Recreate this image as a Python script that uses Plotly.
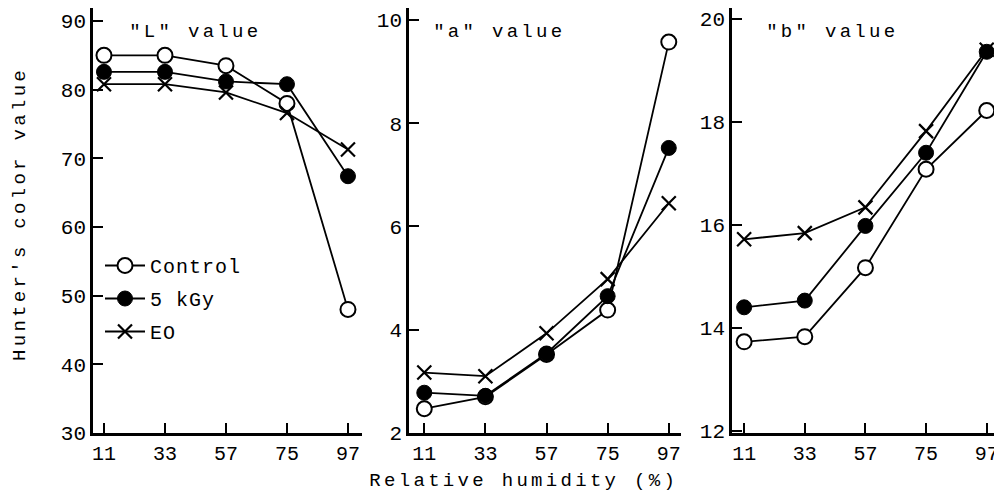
import plotly.graph_objects as go

humidity = ["11", "33", "57", "75", "97"]

L_control = [85.0, 85.0, 83.5, 78.0, 48.0]
L_5kgy = [82.6, 82.6, 81.2, 80.8, 67.4]
L_eo = [80.8, 80.8, 79.6, 76.6, 71.3]

a_control = [2.47, 2.70, 3.52, 4.38, 9.57]
a_5kgy = [2.78, 2.72, 3.54, 4.65, 7.52]
a_eo = [3.17, 3.10, 3.93, 4.98, 6.45]

b_control = [13.73, 13.83, 15.17, 17.08, 18.22]
b_5kgy = [14.40, 14.53, 15.98, 17.40, 19.36]
b_eo = [15.72, 15.84, 16.34, 17.82, 19.40]

series_names = ["Control", "5 kGy", "EO"]
panel_titles = ['"L" value', '"a" value', '"b" value']

MONO = "Liberation Mono, DejaVu Sans Mono, monospace"

W, H = 994, 499

def px_x(p):
    return p / W

def px_y(p):
    return 1 - p / H

styles = [
    dict(marker=dict(symbol="circle", size=15, color="white", line=dict(color="black", width=2))),
    dict(marker=dict(symbol="circle", size=15, color="black", line=dict(color="black", width=1))),
    dict(marker=dict(symbol="x-thin", size=14, color="black", line=dict(color="black", width=2.2))),
]

fig = go.Figure()
panels = [
    (L_control, L_5kgy, L_eo),
    (a_control, a_5kgy, a_eo),
    (b_control, b_5kgy, b_eo),
]

xpos = list(range(len(humidity)))
for pi, data in enumerate(panels):
    xa = "x" if pi == 0 else f"x{pi+1}"
    ya = "y" if pi == 0 else f"y{pi+1}"
    for si, vals in enumerate(data):
        fig.add_trace(go.Scatter(
            x=xpos, y=vals, xaxis=xa, yaxis=ya,
            mode="lines+markers",
            name=series_names[si],
            legendgroup=series_names[si],
            showlegend=(pi == 0),
            line=dict(color="black", width=1.8),
            **styles[si],
        ))

ydom = [px_y(433), px_y(8)]
xdoms = [
    [px_x(93), px_x(362)],
    [px_x(409), px_x(681)],
    [px_x(732), 1.0],
]
xranges = [[-0.18, 4.23], [-0.25, 4.2], [-0.2, 4.12]]
yranges = [[30, 91.9], [2, 10.23], [11.96, 20.21]]
yticks = [[30, 40, 50, 60, 70, 80, 90], [2, 4, 6, 8, 10], [12, 14, 16, 18, 20]]

common_axis = dict(
    showline=True, linecolor="black", linewidth=2.5,
    ticks="inside", ticklen=10, tickwidth=2, tickcolor="black",
    showgrid=False, zeroline=False, automargin=False,
)

layout = dict(
    width=W, height=H,
    margin=dict(l=0, r=0, t=0, b=0, autoexpand=False),
    paper_bgcolor="white", plot_bgcolor="white",
    showlegend=True,
    legend=dict(
        x=px_x(100), y=px_y(246), xanchor="left", yanchor="top",
        font=dict(family=MONO, size=20, color="black"),
        bgcolor="rgba(0,0,0,0)",
        traceorder="grouped", tracegroupgap=4,
        itemwidth=40,
    ),
)
for pi in range(3):
    xk = "xaxis" if pi == 0 else f"xaxis{pi+1}"
    yk = "yaxis" if pi == 0 else f"yaxis{pi+1}"
    ya_anchor = "y" if pi == 0 else f"y{pi+1}"
    xa_anchor = "x" if pi == 0 else f"x{pi+1}"
    layout[xk] = dict(
        domain=xdoms[pi], anchor=ya_anchor, range=xranges[pi],
        tickmode="array", tickvals=xpos, ticktext=humidity,
        tickfont=dict(family=MONO, size=20, color="black"),
        ticklabeloverflow="allow",
        **common_axis,
    )
    layout[yk] = dict(
        domain=ydom, anchor=xa_anchor, range=yranges[pi],
        tickmode="array", tickvals=yticks[pi],
        tickfont=dict(family=MONO, size=21, color="black"),
        **common_axis,
    )

fig.update_layout(**layout)

title_cx = [195, 500, 832]
annotations = []
for pi in range(3):
    annotations.append(dict(
        text=panel_titles[pi], xref="paper", yref="paper",
        x=px_x(title_cx[pi]), y=px_y(32), xanchor="center", yanchor="middle",
        showarrow=False, font=dict(family=MONO, size=19, color="black"),
    ))
annotations.append(dict(
    text="Relative humidity (%)", xref="paper", yref="paper",
    x=px_x(523), y=px_y(481), xanchor="center", yanchor="middle",
    showarrow=False, font=dict(family=MONO, size=19, color="black"),
))
annotations.append(dict(
    text="Hunter's color value", xref="paper", yref="paper",
    x=px_x(20), y=px_y(214), xanchor="center", yanchor="middle",
    textangle=-90,
    showarrow=False, font=dict(family=MONO, size=19, color="black"),
))
fig.update_layout(annotations=annotations)

post = """
document.body.style.margin = '0';
document.body.style.overflow = 'hidden';
var gd = document.getElementById('{plot_id}');
function spaceText() {
  gd.querySelectorAll('text.annotation-text').forEach(function (t) {
    t.style.letterSpacing = '3.3px';
  });
  gd.querySelectorAll('g.legend text.legendtext').forEach(function (t) {
    t.style.letterSpacing = '1px';
  });
}
spaceText();
if (gd.on) { gd.on('plotly_afterplot', spaceText); }
"""

fig.write_html("out.html", post_script=post, config={"displayModeBar": False})
